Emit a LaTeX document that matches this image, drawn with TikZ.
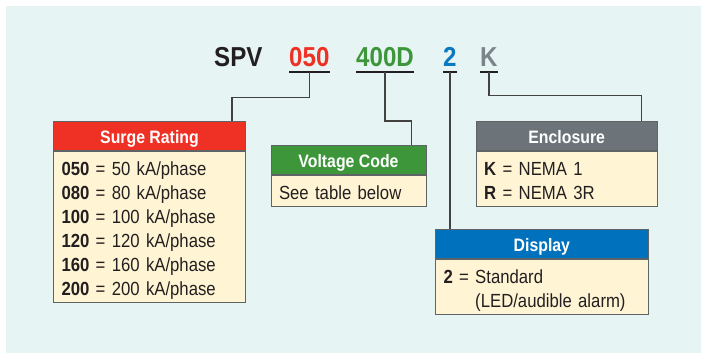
\documentclass[tikz,border=0pt]{standalone}
\usepackage{fontspec}
\setmainfont{Liberation Sans}[FakeStretch=0.88]
\usepackage{xcolor}
\usepackage{tikz}
\usetikzlibrary{positioning}
\definecolor{bgteal}{HTML}{E6F4F4}
\definecolor{surgered}{HTML}{EE3124}
\definecolor{voltgreen}{HTML}{3D9639}
\definecolor{dispblue}{HTML}{0071BC}
\definecolor{encgray}{HTML}{6C7479}
\definecolor{codegray}{HTML}{7A858B}
\definecolor{codeblue}{HTML}{0A79C4}
\definecolor{bodycream}{HTML}{FFF5D4}
\definecolor{inkdark}{HTML}{231F20}
\definecolor{framegray}{HTML}{5E6366}
\newcommand\firststrut{\rule{0pt}{21.5pt}}
\newcommand\laststrut{\rule[-5.7pt]{0pt}{5.7pt}}
\tikzset{
  codetext/.style={inner sep=0pt, anchor=base west, font=\fontsize{27.4}{30}\selectfont\bfseries},
  codeline/.style={line width=2.4pt, draw=inkdark},
  link/.style={line width=1.3pt, draw=inkdark!85},
  headbox/.style={draw=framegray, line width=1pt, anchor=north west, inner xsep=0pt, inner ysep=0pt,
    minimum height=29pt, text height=22.3pt, text depth=6.7pt, text=white,
    font=\fontsize{18}{20}\selectfont\bfseries},
  bodybox/.style={draw=framegray, line width=1pt, fill=bodycream, anchor=north west, inner xsep=8pt,
    inner ysep=2pt, align=left, text=inkdark, font=\fontsize{19}{24}\selectfont}
}
\begin{document}
\begin{tikzpicture}[x=1pt,y=-1pt]
\useasboundingbox (0,0) rectangle (701,353);
\fill[white] (0,0) rectangle (701,353);
\fill[bgteal] (6,6) rectangle (701,353);
% part number
\node[codetext, text=inkdark] (spv) at (214,66.7) {SPV};
\node[codetext, text=surgered] (c050) at (289,66.7) {050};
\node[codetext, text=voltgreen] (c400) at (356,66.7) {400D};
\node[codetext, text=codeblue] (c2) at (443,66.7) {2};
\node[codetext, text=codegray] (cK) at (480,66.7) {K};
\foreach \c in {c050,c400,c2,cK}
  \draw[codeline] ([yshift=-5pt]\c.base west) -- ([yshift=-5pt]\c.base east);
\coordinate (u050) at ([yshift=-5pt]c050.base);
\coordinate (u400) at ([yshift=-5pt]c400.base);
\coordinate (u2) at ([yshift=-5pt]c2.base);
\coordinate (uK) at ([yshift=-5pt]cK.base);
% boxes
\node[headbox, fill=surgered, minimum width=192pt] (surgehead) at (53,121) {Surge Rating};
\node[bodybox, text width=176pt] (surgebody) at (surgehead.south west) {\firststrut\textbf{050} = 50 kA/phase\\
  \textbf{080} = 80 kA/phase\\ \textbf{100} = 100 kA/phase\\ \textbf{120} = 120 kA/phase\\
  \textbf{160} = 160 kA/phase\\ \textbf{200} = 200 kA/phase\laststrut};
\node[headbox, fill=voltgreen, minimum width=155pt] (volthead) at (270.5,145) {Voltage Code};
\node[bodybox, text width=139pt] (voltbody) at (volthead.south west) {\firststrut See table below\laststrut};
\node[headbox, fill=encgray, minimum width=181pt] (enchead) at (475.7,121) {Enclosure};
\node[bodybox, text width=165pt] (encbody) at (enchead.south west) {\firststrut\textbf{K} = NEMA 1\\
  \textbf{R} = NEMA 3R\laststrut};
\node[headbox, fill=dispblue, minimum width=212.7pt] (disphead) at (435,229) {Display};
\node[bodybox, text width=196.7pt] (dispbody) at (disphead.south west) {\firststrut\textbf{2} = Standard\\
  \phantom{\textbf{2} = }(LED/audible alarm)\laststrut};
% connectors
\draw[link] (u050) -- ++(0,26) -| ([xshift=-14pt]surgehead.north east);
\draw[link] (u400) -- ++(0,49.3) -| ([xshift=-15pt]volthead.north east);
\draw[link] (u2) -- (u2 |- disphead.north);
\draw[link] (uK) -- ++(0,24) -| ([xshift=-16pt]enchead.north east);
\end{tikzpicture}
\end{document}
